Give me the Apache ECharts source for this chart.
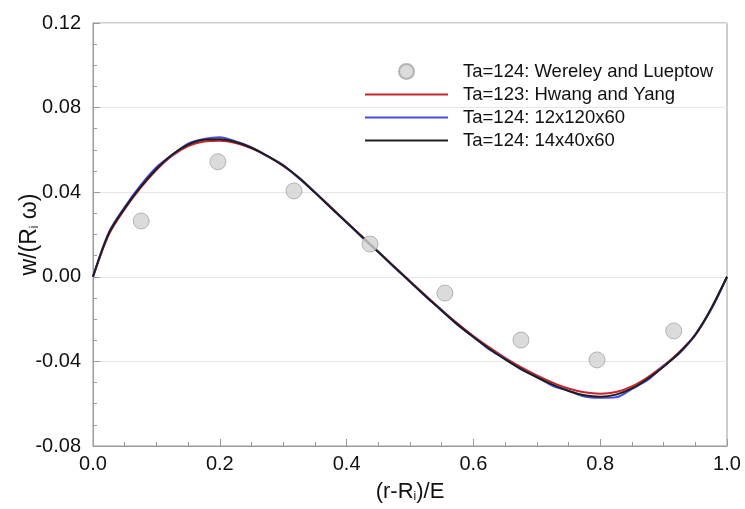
<!DOCTYPE html>
<html>
<head>
<meta charset="utf-8">
<script src="https://cdn.jsdelivr.net/npm/echarts@6/dist/echarts.min.js"></script>
<style>html,body{margin:0;padding:0;background:#fff;}#c{width:745px;height:509px;}</style>
</head>
<body>
<div id="c"></div>
<script>
var seriesNames = ['Ta=124: Wereley and Lueptow', 'Ta=123: Hwang and Yang', 'Ta=124: 12x120x60', 'Ta=124: 14x40x60'];
var expX = [0.076, 0.197, 0.317, 0.437, 0.555, 0.675, 0.795, 0.916];
var expY = [0.0264, 0.0544, 0.0406, 0.0155, -0.0077, -0.0299, -0.0393, -0.0256];
var curveX = [0,0.025,0.05,0.075,0.1,0.125,0.15,0.175,0.2,0.225,0.25,0.275,0.3,0.325,0.35,0.375,0.4,0.425,0.45,0.475,0.5,0.525,0.55,0.575,0.6,0.625,0.65,0.675,0.7,0.725,0.75,0.775,0.8,0.825,0.85,0.875,0.9,0.925,0.95,0.975,1];
var hwangY = [0,0.0200,0.0320,0.0420,0.0505,0.0572,0.0618,0.0640,0.0643,0.0632,0.0607,0.0570,0.0524,0.0468,0.0400,0.0330,0.0259,0.0189,0.0119,0.0049,-0.0021,-0.0090,-0.0157,-0.0221,-0.0280,-0.0334,-0.0383,-0.0427,-0.0466,-0.0500,-0.0528,-0.0546,-0.0553,-0.0545,-0.0518,-0.0475,-0.0420,-0.0355,-0.0275,-0.0152,0];
var grid12Y = [0,0.0210,0.0330,0.0432,0.0518,0.0576,0.0630,0.0652,0.0660,0.0640,0.0612,0.0570,0.0528,0.0465,0.0400,0.0326,0.0258,0.0185,0.0118,0.0045,-0.0022,-0.0094,-0.0158,-0.0228,-0.0284,-0.0343,-0.0388,-0.0438,-0.0473,-0.0515,-0.0538,-0.0566,-0.0572,-0.0570,-0.0530,-0.0488,-0.0422,-0.0362,-0.0272,-0.0155,0];
var grid14Y = [0,0.0205,0.0325,0.0425,0.0510,0.0578,0.0625,0.0648,0.0650,0.0637,0.0610,0.0572,0.0526,0.0468,0.0398,0.0328,0.0257,0.0187,0.0117,0.0047,-0.0023,-0.0092,-0.0160,-0.0225,-0.0285,-0.0340,-0.0390,-0.0435,-0.0475,-0.0510,-0.0540,-0.0560,-0.0567,-0.0557,-0.0528,-0.0482,-0.0425,-0.0358,-0.0275,-0.0150,0];
var xTicks = [0, 0.2, 0.4, 0.6, 0.8, 1.0];
var yTicks = [-0.08, -0.04, 0.00, 0.04, 0.08, 0.12];

function pairs(xs, ys) { return xs.map(function (x, i) { return [x, ys[i]]; }); }

var FONT = 'Liberation Sans';
var LINE_ICON = 'path://M0,0H83V2H0Z';
var chart = echarts.init(document.getElementById('c'), null, { renderer: 'canvas' });
chart.setOption({
  animation: false,
  backgroundColor: '#ffffff',
  textStyle: { fontFamily: FONT },
  grid: { left: 93, right: 18, top: 23, bottom: 63, show: true, borderColor: '#9a9a9a', borderWidth: 1, backgroundColor: 'transparent', outerBoundsMode: 'none', containLabel: false },
  legend: {
    orient: 'vertical', left: 360, top: 57, itemWidth: 83, itemHeight: 15, itemGap: 4,
    data: [
      { name: seriesNames[0], icon: 'circle' },
      { name: seriesNames[1], icon: LINE_ICON },
      { name: seriesNames[2], icon: LINE_ICON },
      { name: seriesNames[3], icon: LINE_ICON }
    ],
    textStyle: { fontFamily: FONT, fontSize: 18.5, color: '#111', padding: [0, 0, 0, 10], lineHeight: 18 }
  },
  xAxis: {
    type: 'value', min: xTicks[0], max: xTicks[xTicks.length - 1], interval: 0.2,
    name: '{a|(r-R}{s|i}{a|)/E}', nameLocation: 'middle', nameGap: 35, nameMoveOverlap: false,
    nameTextStyle: { rich: { a: { fontSize: 22, fontFamily: FONT, color: '#111' }, s: { fontSize: 12, fontFamily: FONT, color: '#111', padding: [10, 0, 0, 0] } } },
    axisLine: { show: true, onZero: false, lineStyle: { color: '#9a9a9a' } },
    axisTick: { show: true, inside: true, length: 7, lineStyle: { color: '#9a9a9a' } },
    minorTick: { show: true, splitNumber: 4, length: 4, lineStyle: { color: '#9a9a9a' } },
    axisLabel: { fontSize: 20, color: '#111', margin: 8, formatter: function (v) { return v.toFixed(1); } },
    splitLine: { show: false }
  },
  yAxis: {
    type: 'value', min: yTicks[0], max: yTicks[yTicks.length - 1], interval: 0.04,
    name: '{a|w/(R}{s|i}{a| ω)}', nameLocation: 'middle', nameGap: 52, nameRotate: 90, nameMoveOverlap: false,
    nameTextStyle: { rich: { a: { fontSize: 23, fontFamily: FONT, color: '#111' }, s: { fontSize: 12, fontFamily: FONT, color: '#111', padding: [10, 0, 0, 0] } } },
    axisLine: { show: true, onZero: false, lineStyle: { color: '#9a9a9a' } },
    axisTick: { show: true, inside: true, length: 7, lineStyle: { color: '#9a9a9a' } },
    minorTick: { show: true, splitNumber: 4, length: 4, lineStyle: { color: '#9a9a9a' } },
    axisLabel: { fontSize: 20, color: '#111', margin: 12, formatter: function (v) { return v.toFixed(2); } },
    splitLine: { show: true, lineStyle: { color: '#e6e6e6', width: 1 } }
  },
  series: [
    { name: seriesNames[0], type: 'scatter', data: pairs(expX, expY), symbol: 'circle', symbolSize: 16, z: 5,
      itemStyle: { color: '#d2d2d2', borderColor: '#a5a5a5', borderWidth: 1 } },
    { name: seriesNames[1], type: 'line', data: pairs(curveX, hwangY), symbol: 'none', smooth: 0.3, z: 2,
      lineStyle: { color: '#c8252b', width: 2 }, itemStyle: { color: '#c8252b' } },
    { name: seriesNames[2], type: 'line', data: pairs(curveX, grid12Y), symbol: 'none', smooth: 0.3, z: 3,
      lineStyle: { color: '#4b4bea', width: 2 }, itemStyle: { color: '#4b4bea' } },
    { name: seriesNames[3], type: 'line', data: pairs(curveX, grid14Y), symbol: 'none', smooth: 0.3, z: 4,
      lineStyle: { color: '#1e1e1e', width: 2 }, itemStyle: { color: '#1e1e1e' } }
  ]
});
</script>
</body>
</html>
